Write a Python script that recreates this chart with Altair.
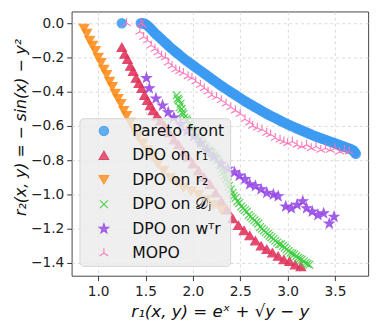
import altair as alt
import pandas as pd

# ---------------- data ----------------
series_names = ["Pareto front", "DPO on r₁", "DPO on r₂", "DPO on 𝒟ⱼ", "DPO on wᵀr", "MOPO"]

pareto_x = [1.25, 1.45, 1.47, 1.49, 1.51, 1.53, 1.55, 1.57, 1.59, 1.61, 1.63, 1.65, 1.67, 1.69,
            1.71, 1.73, 1.75, 1.77, 1.79, 1.81, 1.83, 1.85, 1.875, 1.90, 1.925, 1.95, 1.975,
            2.00, 2.025, 2.05, 2.075, 2.10, 2.125, 2.15, 2.175, 2.20, 2.225, 2.25, 2.275,
            2.30, 2.325, 2.35, 2.375, 2.40, 2.425, 2.45, 2.475, 2.50, 2.525, 2.55, 2.575,
            2.60, 2.625, 2.65, 2.675, 2.70, 2.725, 2.75, 2.775, 2.80, 2.825, 2.85, 2.875,
            2.90, 2.925, 2.95, 2.975, 3.00, 3.025, 3.05, 3.075, 3.10, 3.125, 3.15, 3.175,
            3.20, 3.225, 3.25, 3.275, 3.30, 3.325, 3.35, 3.375, 3.40, 3.425, 3.45, 3.475,
            3.50, 3.525, 3.55, 3.575, 3.60, 3.625, 3.65, 3.67, 3.69, 3.70, 3.71, 3.72]
pareto_y = [0.00, 0.00, 0.00, -0.002, -0.008, -0.018, -0.028, -0.04, -0.052, -0.064, -0.072,
            -0.084, -0.093, -0.104, -0.114, -0.124, -0.135, -0.145, -0.154, -0.163, -0.172,
            -0.181, -0.193, -0.204, -0.215, -0.225, -0.235, -0.245, -0.255, -0.265, -0.275,
            -0.285, -0.295, -0.305, -0.315, -0.325, -0.335, -0.345, -0.355, -0.365, -0.374,
            -0.383, -0.392, -0.401, -0.41, -0.419, -0.428, -0.437, -0.446, -0.455, -0.463,
            -0.471, -0.479, -0.487, -0.495, -0.503, -0.511, -0.519, -0.527, -0.534, -0.541,
            -0.548, -0.555, -0.562, -0.569, -0.576, -0.583, -0.59, -0.596, -0.602, -0.608,
            -0.614, -0.62, -0.626, -0.632, -0.638, -0.644, -0.65, -0.656, -0.661, -0.666,
            -0.671, -0.676, -0.681, -0.686, -0.691, -0.696, -0.701, -0.706, -0.711, -0.716,
            -0.721, -0.726, -0.731, -0.736, -0.741, -0.747, -0.754, -0.762]

dpo_r1_x = [1.25, 1.28, 1.31, 1.34, 1.37, 1.40, 1.43, 1.46, 1.49, 1.52, 1.55, 1.58, 1.62, 1.66,
            1.70, 1.75, 1.80, 1.85, 1.90, 1.95, 2.00, 2.06, 2.12, 2.18, 2.24, 2.30, 2.36, 2.42,
            2.48, 2.54, 2.60, 2.66, 2.72, 2.78, 2.84, 2.90, 2.96, 3.02, 3.08, 3.14]
dpo_r1_y = [-0.14, -0.18, -0.21, -0.25, -0.28, -0.32, -0.35, -0.38, -0.42, -0.45, -0.48, -0.51,
            -0.54, -0.57, -0.60, -0.64, -0.68, -0.71, -0.75, -0.78, -0.82, -0.86, -0.90, -0.94,
            -0.99, -1.04, -1.09, -1.14, -1.18, -1.21, -1.24, -1.27, -1.30, -1.32, -1.34, -1.36,
            -1.38, -1.39, -1.41, -1.42]

dpo_r2_x = [0.85, 0.88, 0.91, 0.94, 0.97, 1.00, 1.03, 1.06, 1.09, 1.12, 1.15, 1.18, 1.21, 1.24,
            1.27, 1.30, 1.34, 1.38, 1.42, 1.47, 1.52, 1.57, 1.63, 1.69, 1.76, 1.83, 1.90, 1.98,
            2.06, 2.14, 2.22, 2.30]
dpo_r2_y = [-0.03, -0.06, -0.10, -0.13, -0.16, -0.20, -0.23, -0.27, -0.30, -0.34, -0.37, -0.41,
            -0.44, -0.47, -0.51, -0.54, -0.58, -0.62, -0.66, -0.70, -0.74, -0.78, -0.82, -0.86,
            -0.90, -0.93, -0.96, -0.98, -1.00, -1.03, -1.06, -1.09]

dpo_dj_x = [1.83, 1.84, 1.85, 1.87, 1.86, 1.88, 1.89, 1.90, 1.91, 1.93, 1.94, 1.96, 1.98, 1.99,
            2.01, 2.02, 2.04, 2.05, 2.07, 2.08, 2.10, 2.11, 2.13, 2.14, 2.16, 2.17, 2.19, 2.20,
            2.22, 2.23, 2.25, 2.26, 2.28, 2.29, 2.31, 2.32, 2.34, 2.35, 2.37, 2.38, 2.40, 2.42,
            2.43, 2.45, 2.47, 2.49, 2.51, 2.53, 2.55, 2.57, 2.59, 2.61, 2.63, 2.65, 2.67, 2.69,
            2.71, 2.73, 2.75, 2.77, 2.79, 2.81, 2.83, 2.85, 2.87, 2.89, 2.91, 2.93, 2.95, 2.97,
            2.99, 3.01, 3.03, 3.05, 3.07, 3.09, 3.11, 3.13, 3.15, 3.17, 3.19, 3.21, 3.23]
dpo_dj_y = [-0.42, -0.44, -0.45, -0.47, -0.49, -0.50, -0.52, -0.53, -0.55, -0.56, -0.57, -0.59,
            -0.60, -0.62, -0.63, -0.64, -0.65, -0.66, -0.68, -0.69, -0.70, -0.71, -0.72, -0.73,
            -0.74, -0.745, -0.75, -0.76, -0.77, -0.78, -0.79, -0.80, -0.82, -0.83, -0.85, -0.87,
            -0.89, -0.91, -0.93, -0.95, -0.97, -0.99, -1.01, -1.02, -1.04, -1.05, -1.07, -1.08,
            -1.09, -1.10, -1.12, -1.13, -1.14, -1.15, -1.16, -1.17, -1.19, -1.20, -1.21, -1.22,
            -1.23, -1.24, -1.25, -1.26, -1.27, -1.28, -1.29, -1.29, -1.30, -1.31, -1.32, -1.33,
            -1.34, -1.345, -1.35, -1.36, -1.37, -1.375, -1.38, -1.39, -1.40, -1.405, -1.41]

dpo_w_x = [1.51, 1.54, 1.61, 1.68, 1.74, 1.80, 1.87, 1.94, 2.01, 2.08, 2.15, 2.22, 2.30, 2.37,
           2.44, 2.49, 2.55, 2.60, 2.66, 2.72, 2.78, 2.85, 2.90, 2.98, 3.04, 3.10, 3.16, 3.20,
           3.26, 3.32, 3.38, 3.44, 3.49]
dpo_w_y = [-0.32, -0.38, -0.44, -0.48, -0.52, -0.55, -0.59, -0.63, -0.66, -0.70, -0.74, -0.78,
           -0.82, -0.85, -0.87, -0.89, -0.91, -0.94, -0.95, -0.97, -0.99, -1.00, -1.01, -1.07,
           -1.08, -1.06, -1.04, -1.08, -1.10, -1.12, -1.11, -1.17, -1.13]

mopo_x = [1.30, 1.45, 1.47, 1.44, 1.48, 1.52, 1.56, 1.60, 1.63, 1.67, 1.71, 1.74, 1.78, 1.82,
          1.86, 1.90, 1.95, 1.99, 2.03, 2.08, 2.12, 2.16, 2.20, 2.25, 2.30, 2.35, 2.40, 2.45,
          2.50, 2.55, 2.60, 2.63, 2.68, 2.73, 2.78, 2.82, 2.87, 2.92, 2.96, 3.00, 3.05, 3.10,
          3.15, 3.20, 3.25, 3.30, 3.35, 3.40, 3.45, 3.50, 3.55, 3.60, 3.65]
mopo_y = [0.00, 0.00, -0.01, -0.05, -0.08, -0.10, -0.13, -0.15, -0.17, -0.19, -0.20, -0.23,
          -0.25, -0.27, -0.28, -0.29, -0.31, -0.32, -0.34, -0.36, -0.38, -0.40, -0.42, -0.43,
          -0.45, -0.47, -0.49, -0.51, -0.53, -0.56, -0.58, -0.60, -0.61, -0.62, -0.64, -0.65,
          -0.67, -0.68, -0.69, -0.70, -0.69, -0.71, -0.72, -0.71, -0.73, -0.72, -0.74, -0.73,
          -0.74, -0.73, -0.75, -0.74, -0.75]

x_ticks = [1.0, 1.5, 2.0, 2.5, 3.0, 3.5]
y_ticks = [0.0, -0.2, -0.4, -0.6, -0.8, -1.0, -1.2, -1.4]

# ---------------- styles ----------------
colors = ["#3d9bf2", "#e0325a", "#ff8c1a", "#3ccc3c", "#9546e6", "#ff6eb4"]
fills = ["#3d9bf2", "#e0325a", "#ff8c1a", "transparent", "#9546e6", "transparent"]
star = ("M0,-1L0.235,-0.324L0.951,-0.309L0.38,0.124L0.588,0.809L0,0.4L-0.588,0.809"
        "L-0.38,0.124L-0.951,-0.309L-0.235,-0.324Z")
xmark = "M-0.8,-0.8L0.8,0.8M-0.8,0.8L0.8,-0.8"
tri = "M0,0L0,-1M0,0L-0.866,0.5M0,0L0.866,0.5"
shapes = ["circle", "triangle-up", "triangle-down", xmark, star, tri]
sizes = [90, 105, 105, 75, 150, 170]

xs = [pareto_x, dpo_r1_x, dpo_r2_x, dpo_dj_x, dpo_w_x, mopo_x]
ys = [pareto_y, dpo_r1_y, dpo_r2_y, dpo_dj_y, dpo_w_y, mopo_y]
frames = []
for name, xv, yv in zip(series_names, xs, ys):
    frames.append(pd.DataFrame({"r1": xv, "r2": yv, "series": name}))
df = pd.concat(frames, ignore_index=True)

legend = alt.Legend(
    title=None, orient="none", legendX=8, legendY=109, zindex=2,
    fillColor="rgba(236,236,236,0.82)", strokeColor="#d6d6d6", cornerRadius=4,
    padding=5, symbolOffset=12, labelOffset=21, labelFontSize=16, labelFont="DejaVu Sans",
    labelColor="#111", rowPadding=9, symbolStrokeWidth=1.2,
)

chart = alt.Chart(df).mark_point(filled=True, opacity=0.88, strokeWidth=1.2).encode(
    x=alt.X("r1:Q", scale=alt.Scale(domain=[0.72, 3.85], nice=False, zero=False),
            axis=alt.Axis(values=x_ticks, format=".1f", title="r₁(x, y) = eˣ + √y − y")),
    y=alt.Y("r2:Q", scale=alt.Scale(domain=[-1.474, 0.069], nice=False, zero=False),
            axis=alt.Axis(values=y_ticks, format=".1f", title="r₂(x, y) = − sin(x) − y²",
                          titleFontSize=16, titleY=118, titlePadding=2)),
    shape=alt.Shape("series:N", scale=alt.Scale(domain=series_names, range=shapes), legend=legend),
    fill=alt.Fill("series:N", scale=alt.Scale(domain=series_names, range=fills), legend=legend),
    stroke=alt.Stroke("series:N", scale=alt.Scale(domain=series_names, range=colors), legend=legend),
    size=alt.Size("series:N", scale=alt.Scale(domain=series_names, range=sizes), legend=legend),
).properties(
    width=303, height=270,
    autosize=alt.AutoSizeParams(type="none"),
    padding={"left": 65, "top": 0, "right": 6, "bottom": 55},
).configure(
    font="DejaVu Sans",
).configure_view(
    stroke="#444444", strokeWidth=1,
).configure_axis(
    domain=False, grid=True, gridColor="#d0d0d0", gridDash=[3, 3], gridWidth=0.8,
    tickColor="#333333", tickSize=5, tickWidth=1,
    labelFontSize=14, labelColor="#222222", labelFont="DejaVu Sans",
    titleFontSize=17, titleFontWeight="normal", titleFontStyle="italic",
    titleColor="#111111", titleFont="DejaVu Sans",
).configure_axisX(
    labelPadding=4, titlePadding=6,
).configure_axisY(
    labelPadding=3,
)

chart.save("out.html", embed_options={"renderer": "svg", "actions": False})
